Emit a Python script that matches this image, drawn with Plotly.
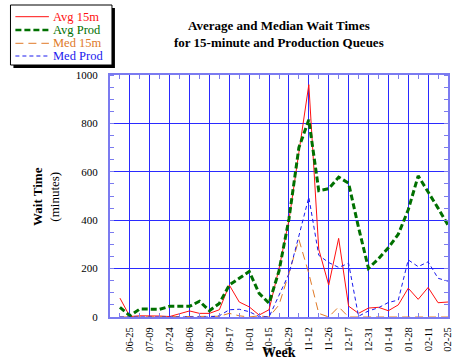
import plotly.graph_objects as go

# ---------------- data ----------------
week_labels = ["06-25", "07-09", "07-24", "08-06", "08-20", "09-17", "10-01", "10-15",
               "10-29", "11-12", "11-26", "12-17", "12-31", "01-14", "01-28", "02-11", "02-25"]
weeks = list(range(34))          # weekly observations (categorical index)
label_pos = list(range(1, 34, 2))  # every second observation carries a label

avg_15m = [78, 2, 5, 6, 4, 2, 12, 25, 15, 15, 30, 132, 62, 42, 8, 30, 200, 400,
           680, 960, 280, 132, 325, 45, 15, 37, 40, 26, 50, 119, 73, 122, 59, 62]
avg_prod = [40, 5, 33, 33, 32, 44, 44, 44, 65, 26, 56, 132, 160, 188, 98, 57, 190, 405,
            700, 815, 522, 530, 578, 553, 370, 201, 240, 286, 342, 443, 583, 518, 450, 380]
med_15m = [0, 0, 0, 0, 0, 0, 0, 0, 0, 0, 3, 15, 5, 0, 5, 0, 50, 180,
           320, 180, 15, 0, 42, 0, 0, 0, 0, 0, 0, 0, 3, 0, 3, 0]
med_prod = [0, 0, 0, 0, 0, 0, 0, 0, 0, 0, 5, 30, 32, 22, 2, 0, 90, 178,
            335, 495, 255, 225, 205, 222, 3, 25, 38, 60, 70, 236, 208, 228, 160, 148]

series_names = ["Avg 15m", "Avg Prod", "Med 15m", "Med Prod"]

# ---------------- style ----------------
FONT = "Liberation Serif"
RED, GREEN, ORANGE, BLUE = "#ff1010", "#007000", "#e07a28", "#1a1aee"
GRID, FRAME = "#2a2aff", "#7b7bf0"

W, H = 457, 360
ML, MR, MT, MB = 110, 4, 75, 43
PW, PH = W - ML - MR, H - MT - MB


def px(x):
    return (x - ML) / PW


def py(y):
    return (H - MB - y) / PH


fig = go.Figure()
styles = [
    (avg_15m, RED, 1, "solid"),
    (avg_prod, GREEN, 3, "6px,3px"),
    (med_15m, ORANGE, 1, "8px,5px"),
    (med_prod, BLUE, 1, "4px,3px"),
]
for (vals, col, w, dash), name in zip(styles, series_names):
    fig.add_trace(go.Scatter(x=weeks, y=vals, mode="lines", name=name,
                             line=dict(color=col, width=w, dash=dash),
                             showlegend=False))

# ---------------- manual legend ----------------
shapes = [
    dict(type="rect", xref="paper", yref="paper", x0=px(12), x1=px(115), y0=py(68), y1=py(8),
         fillcolor="black", line=dict(width=0)),
    dict(type="rect", xref="paper", yref="paper", x0=px(9), x1=px(112), y0=py(65), y1=py(5),
         fillcolor="white", line=dict(color="black", width=1)),
]
annotations = []
rows = [16.7, 30, 43.3, 56]
for (vals, col, w, dash), name, ry in zip(styles, series_names, rows):
    shapes.append(dict(type="line", xref="paper", yref="paper", x0=px(14), x1=px(48),
                       y0=py(ry), y1=py(ry),
                       line=dict(color=col, width=w if w < 3 else 2.5, dash=dash)))
    annotations.append(dict(text=name, xref="paper", yref="paper", x=px(50), y=py(ry),
                            xanchor="left", yanchor="middle", showarrow=False,
                            font=dict(family=FONT, size=12.5, color=col)))

annotations += [
    dict(text="<b>Average and Median Wait Times<br>for 15-minute and Production Queues</b>",
         xref="paper", yref="paper", x=0.5, y=py(34), xanchor="center", yanchor="middle",
         showarrow=False, font=dict(family=FONT, size=13, color="black")),
    dict(text="<b>Wait Time</b><br>(minutes)", xref="paper", yref="paper", x=px(45), y=0.5,
         textangle=-90, xanchor="center", yanchor="middle", showarrow=False,
         font=dict(family=FONT, size=13, color="black")),
    dict(text="<b>Week</b>", xref="paper", yref="paper", x=0.5, y=py(352),
         xanchor="center", yanchor="middle", showarrow=False,
         font=dict(family=FONT, size=14, color="black")),
]

fig.update_layout(
    width=W, height=H,
    margin=dict(l=ML, r=MR, t=MT, b=MB, pad=0),
    paper_bgcolor="white", plot_bgcolor="white",
    showlegend=False,
    shapes=shapes, annotations=annotations,
    xaxis=dict(range=[-1, 33], tickmode="array", tickvals=label_pos, ticktext=week_labels,
               tickangle=-90, showgrid=True, gridcolor=GRID, gridwidth=1,
               showline=True, linecolor=FRAME, linewidth=2, mirror="allticks",
               ticks="", zeroline=False, ticklabelstandoff=4,
               tickfont=dict(family=FONT, size=10.5, color="black"),
               minor=dict(tickmode="array", tickvals=list(range(0, 34, 2)), ticks="inside",
                          ticklen=4, tickcolor=FRAME, showgrid=False)),
    yaxis=dict(range=[0, 1000], tickmode="array", tickvals=[0, 200, 400, 600, 800, 1000],
               showgrid=True, gridcolor=GRID, gridwidth=1,
               showline=True, linecolor=FRAME, linewidth=2, mirror="allticks",
               ticks="", zeroline=False, ticklabelstandoff=8,
               tickfont=dict(family=FONT, size=11, color="black"),
               minor=dict(dtick=50, ticks="inside", ticklen=4, tickcolor=FRAME, showgrid=False)),
)

fig.write_html("out.html", config={"displayModeBar": False},
               post_script="document.body.style.margin='0';document.body.style.padding='0';"
                           "document.documentElement.style.overflow='hidden';")
